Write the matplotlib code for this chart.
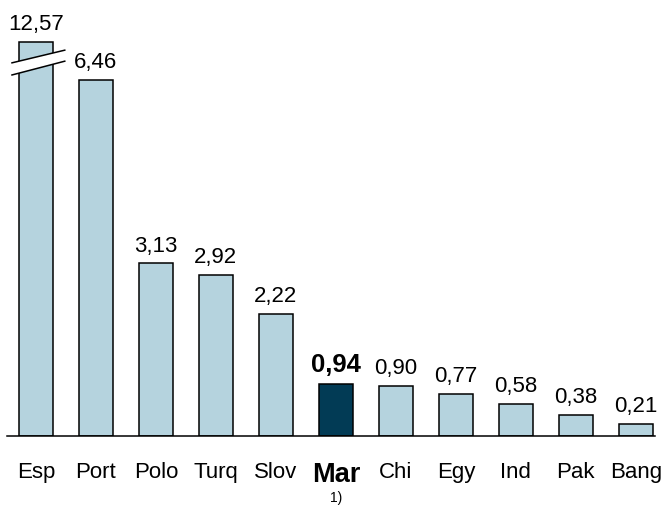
import matplotlib
matplotlib.use('Agg')
import matplotlib.pyplot as plt
from matplotlib.patches import Polygon

plt.rcParams['font.family'] = ['Liberation Sans', 'DejaVu Sans']

countries = ['Esp', 'Port', 'Polo', 'Turq', 'Slov', 'Mar', 'Chi', 'Egy', 'Ind', 'Pak', 'Bang']
values = [12.57, 6.46, 3.13, 2.92, 2.22, 0.94, 0.90, 0.77, 0.58, 0.38, 0.21]
highlight = 'Mar'
cap = 7.15   # Esp bar is cut at this height

light = '#b5d3de'
dark = '#023b55'

fig = plt.figure(figsize=(6.64, 5.05), dpi=100)
ax = fig.add_axes([7 / 664, 69 / 505, 648 / 664, 436 / 505])

x = list(range(len(countries)))
shown = [min(v, cap) for v in values]
colors = [dark if c == highlight else light for c in countries]
ax.bar(x, shown, width=0.57, color=colors, edgecolor='black', linewidth=1.1, zorder=2)

for i, v in enumerate(values):
    txt = f'{v:.2f}'.replace('.', ',')
    bold = countries[i] == highlight
    ax.annotate(txt, (x[i], shown[i]), xytext=(0, 5), textcoords='offset points',
                ha='center', va='bottom', fontsize=18.5 if bold else 16,
                fontweight='bold' if bold else 'normal')

# break marks on the cut bar
x0, x1 = -0.40, 0.48
ya = (6.77, 7.00)
yb = (6.55, 6.80)
ax.add_patch(Polygon([(x0, ya[0]), (x1, ya[1]), (x1, yb[1]), (x0, yb[0])],
                     closed=True, facecolor='white', edgecolor='none', zorder=3))
ax.plot([x0, x1], ya, color='black', lw=1.1, zorder=4)
ax.plot([x0, x1], yb, color='black', lw=1.1, zorder=4)

ax.set_xlim(-0.483, 10.32)
ax.set_ylim(0, 7.91)
ax.set_xticks(x)
ax.set_xticklabels(countries, fontsize=16)
ax.tick_params(axis='x', length=0, pad=19)
for lbl in ax.get_xticklabels():
    if lbl.get_text() == highlight:
        lbl.set_fontweight('bold')
        lbl.set_fontsize(19.5)
ax.set_yticks([])
for s in ['top', 'right', 'left']:
    ax.spines[s].set_visible(False)
ax.spines['bottom'].set_linewidth(1.1)

i_h = countries.index(highlight)
ax.annotate('1)', (x[i_h], 0), xytext=(0, -39.5), textcoords='offset points',
            ha='center', va='top', fontsize=10, annotation_clip=False)

fig.savefig('out.png', dpi=100)
